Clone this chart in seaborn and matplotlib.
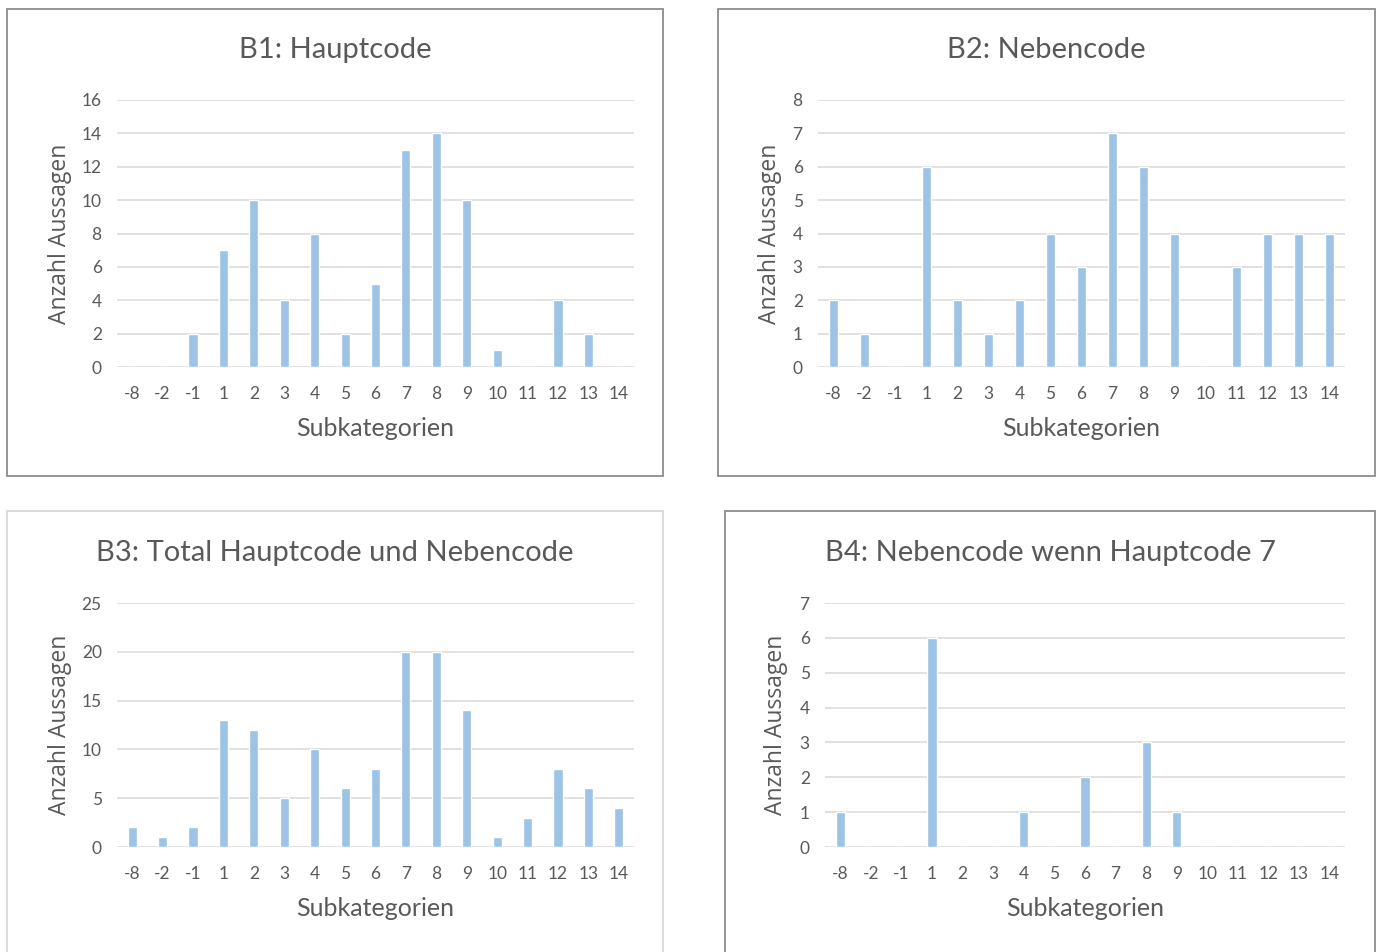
import numpy as np
import pandas as pd
import seaborn as sns
import matplotlib.pyplot as plt
from matplotlib.patches import Rectangle

# ---- data ----
subkategorien = ["-8", "-2", "-1", "1", "2", "3", "4", "5", "6", "7",
                 "8", "9", "10", "11", "12", "13", "14"]
b1_hauptcode = [0, 0, 2, 7, 10, 4, 8, 2, 5, 13, 14, 10, 1, 0, 4, 2, 0]
b2_nebencode = [2, 1, 0, 6, 2, 1, 2, 4, 3, 7, 6, 4, 0, 3, 4, 4, 4]
b3_total = [2, 1, 2, 13, 12, 5, 10, 6, 8, 20, 20, 14, 1, 3, 8, 6, 4]
b4_neben_wenn_7 = [1, 0, 0, 6, 0, 0, 1, 0, 2, 0, 3, 1, 0, 0, 0, 0, 0]

titles = ["B1: Hauptcode", "B2: Nebencode",
          "B3: Total Hauptcode und Nebencode", "B4: Nebencode wenn Hauptcode 7"]
y_max = [16, 8, 25, 7]
y_step = [2, 1, 5, 1]

sns.set_theme(style="white")
plt.rcParams['font.family'] = ['Lato', 'DejaVu Sans']

TXT = '#595959'
BAR = '#9DC3E6'
GRID = '#D9D9D9'

W, H = 1380, 952
fig = plt.figure(figsize=(W / 100, H / 100), dpi=100)

def fx(px):
    return px / W

def fy(py):
    return 1 - py / H

# (box x0, y0, x1, y1, border colour), (axes left, top, right, bottom) in pixels
panels = [
    ((7, 9, 663, 476, '#8C8C8C'), (117, 100, 634, 367)),
    ((718, 9, 1375, 476, '#8C8C8C'), (818, 100, 1345, 367)),
    ((7, 511, 663, 960, '#D9D9D9'), (117, 603, 634, 847)),
    ((725, 511, 1375, 960, '#8C8C8C'), (825, 603, 1345, 847)),
]
series = [b1_hauptcode, b2_nebencode, b3_total, b4_neben_wenn_7]
ylab_centre = [61, 771, 61, 777]

for i, ((bx0, by0, bx1, by1, bc), (l, t, r, b)) in enumerate(panels):
    # chart border
    fig.add_artist(Rectangle((fx(bx0), fy(by1)), fx(bx1 - bx0), (by1 - by0) / H,
                             transform=fig.transFigure, fill=False,
                             edgecolor=bc, linewidth=1.3))

    ax = fig.add_axes([fx(l), fy(b), fx(r - l), (b - t) / H])
    d = pd.DataFrame({'Subkategorie': subkategorien, 'Anzahl': series[i]})
    sns.barplot(data=d, x='Subkategorie', y='Anzahl', order=subkategorien,
                color=BAR, width=0.3, saturation=1, ax=ax, zorder=3)

    ax.set_xlim(-0.5, len(subkategorien) - 0.5)
    ax.set_ylim(0, y_max[i])
    ax.set_yticks(np.arange(0, y_max[i] + 1, y_step[i]))
    ax.grid(axis='y', color=GRID, linewidth=1.1, zorder=0)
    for s in ax.spines.values():
        s.set_visible(False)
    ax.tick_params(axis='both', length=0, labelsize=12.5, labelcolor=TXT)
    ax.tick_params(axis='y', pad=11)
    ax.tick_params(axis='x', pad=14)

    ax.set_xlabel('Subkategorien', fontsize=18, color=TXT)
    ax.set_ylabel('Anzahl Aussagen', fontsize=16.5, color=TXT,
                  family=['Open Sans', 'DejaVu Sans'])
    ax.xaxis.set_label_coords(0.5, -50 / (b - t))
    ax.yaxis.set_label_coords((ylab_centre[i] + 11 - l) / (r - l), 0.5)

    # title centred on the chart box
    fig.text(fx((bx0 + bx1) / 2), fy(t - 50), titles[i], ha='center', va='center',
             fontsize=21, color=TXT)

plt.savefig('out.png', dpi=100)
